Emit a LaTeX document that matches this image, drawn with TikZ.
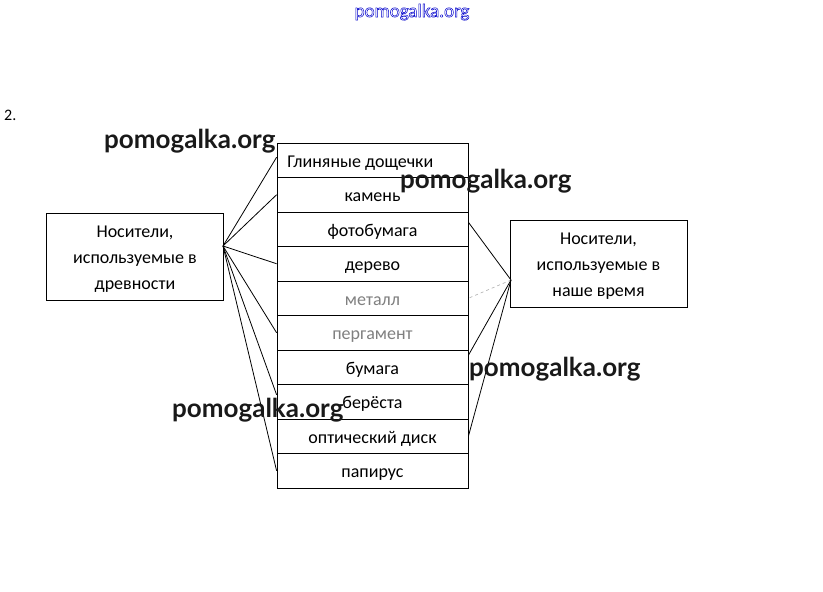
\documentclass[tikz,border=0pt]{standalone}
\usepackage{fontspec}
\setmainfont{Carlito}
\newfontfamily\wmfont{Lato}
\newcommand{\outlinetext}[1]{\special{pdf:code 0.5 w 1 Tr}#1\special{pdf:code 0 Tr 1 w}}
\begin{document}
\begin{tikzpicture}[x=1pt,y=-1pt,
  cell/.style={draw=black,line width=0.8pt,minimum width=191pt,minimum height=34.5pt,inner sep=0pt,text height=16pt,text depth=2pt,font=\fontsize{18}{21}\selectfont,anchor=center},
  bigbox/.style={draw=black,line width=0.8pt,minimum width=177pt,minimum height=87pt,inner sep=0pt},
  boxtext/.style={align=center,font=\fontsize{18}{26}\selectfont,inner sep=0pt},
  link/.style={line width=0.8pt},
  faint/.style={line width=0.6pt,gray!60,dashed},
  wm/.style={font=\wmfont\bfseries\fontsize{26}{30}\selectfont,anchor=base west,inner sep=0pt,text=black!90}]
\useasboundingbox (0,0) rectangle (823,592);
\fill[white] (0,0) rectangle (823,592);
\node[font=\fontsize{19}{21}\selectfont,text=blue!80!black,anchor=base,inner sep=0pt] (top) at (412,17) {\outlinetext{pomogalka.org}};
\node[font=\fontsize{16}{18}\selectfont,anchor=base west,inner sep=0pt] (num) at (4,120) {2.};
\node[bigbox,label={[boxtext,yshift=-3pt]center:{Носители,\\используемые в\\древности}}] (L) at (135,256.5) {};
\node[bigbox,label={[boxtext,yshift=-2.5pt]center:{Носители,\\используемые в\\наше время}}] (R) at (598.5,264) {};
\node[cell] (c1) at (372.5,160.25) {\hspace*{-1.35em}Глиняные дощечки};
\node[cell] (c2) at (372.5,194.75) {камень};
\node[cell] (c3) at (372.5,229.25) {фотобумага};
\node[cell] (c4) at (372.5,263.75) {дерево};
\node[cell,text=gray] (c5) at (372.5,298.25) {металл};
\node[cell,text=gray] (c6) at (372.5,332.75) {пергамент};
\node[cell] (c7) at (372.5,367.25) {бумага};
\node[cell] (c8) at (372.5,401.75) {берёста};
\node[cell] (c9) at (372.5,436.25) {оптический диск};
\node[cell] (c10) at (372.5,470.75) {папирус};
\coordinate (lp) at (223,246);
\coordinate (rp) at (511,280);
\draw[link] (lp) -- ([yshift=3pt]c1.west);
\draw[link] (lp) -- (c2.west);
\draw[link] (lp) -- (c4.west);
\draw[link] (lp) -- (c6.west);
\draw[link] (lp) -- ([yshift=7pt]c8.west);
\draw[link] (lp) -- (c10.west);
\draw[link] (rp) -- ([yshift=7pt]c3.east);
\draw[faint] (rp) -- (c5.east);
\draw[link] (rp) -- ([yshift=12pt]c7.east);
\draw[link] (rp) -- (c9.east);
\node[wm] (w1) at (104,148) {pomogalka.org};
\node[wm] (w2) at (400,188) {pomogalka.org};
\node[wm] (w3) at (469,376) {pomogalka.org};
\node[wm] (w4) at (172,417) {pomogalka.org};
\end{tikzpicture}
\end{document}
